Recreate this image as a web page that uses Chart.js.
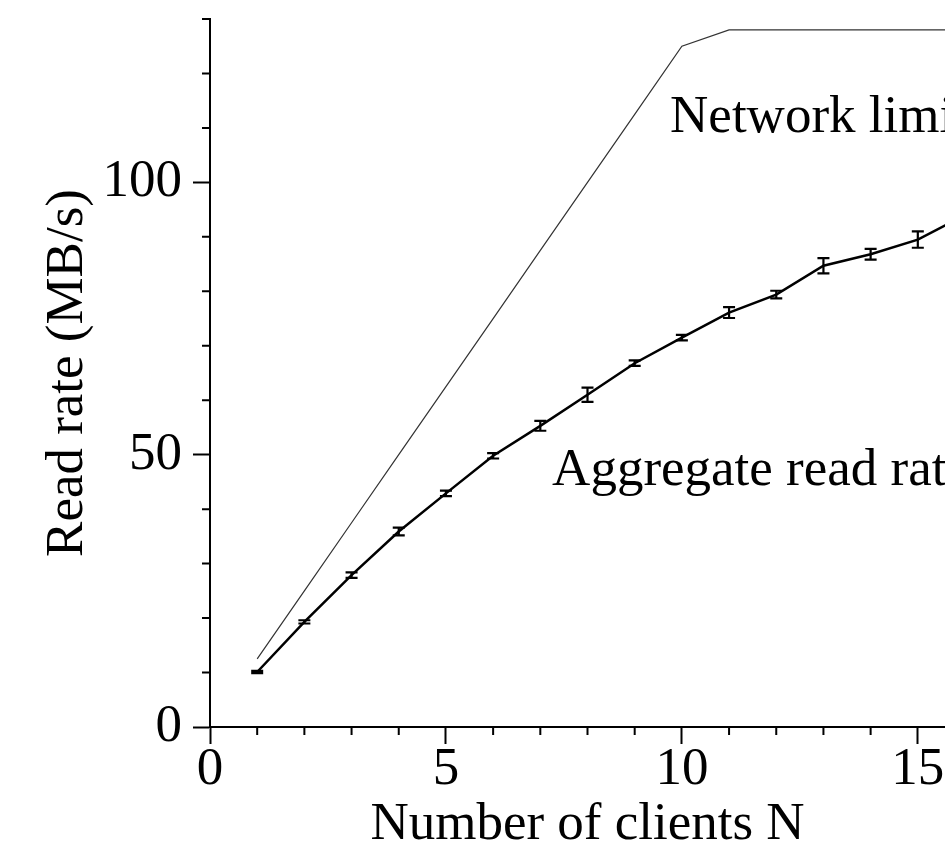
<!DOCTYPE html>
<html>
<head>
<meta charset="utf-8">
<script src="https://cdn.jsdelivr.net/npm/chart.js@4/dist/chart.umd.min.js"></script>
<style>
  html, body { margin: 0; padding: 0; background: #fff; overflow: hidden; }
</style>
</head>
<body>
<canvas id="chart" width="980" height="853"></canvas>
<script>
// values
let clients = [1, 2, 3, 4, 5, 6, 7, 8, 9, 10, 11, 12, 13, 14, 15, 16];
let aggregate_rate = [10.1, 19.3, 27.9, 35.9, 42.9, 49.8, 55.3, 61.0, 66.8, 71.5, 76.1, 79.4, 84.7, 86.8, 89.5, 94.0];
let aggregate_err = [0.2, 0.3, 0.5, 0.7, 0.5, 0.5, 0.9, 1.3, 0.5, 0.5, 1.0, 0.7, 1.4, 1.0, 1.5, 1.0];
let network_limit = [12.5, 25, 37.5, 50, 62.5, 75, 87.5, 100, 112.5, 125, 128, 128, 128, 128, 128, 128];

let x_labels = [0, 5, 10, 15];
let y_labels = [0, 50, 100];
let x_minor = [1, 2, 3, 4, 6, 7, 8, 9, 11, 12, 13, 14, 16];
let y_minor = [10, 20, 30, 40, 60, 70, 80, 90, 110, 120, 130];

// text written inside the plot, anchored at data values
let notes = [
  {text: "Network limit", x: 9.75, y: 109.3},
  {text: "Aggregate read rate", x: 7.25, y: 44.4}
];

const FONT = '"Liberation Serif", "Times New Roman", serif';

let extras = {
  id: 'extras',
  afterDatasetsDraw(chart) {
    let ctx = chart.ctx;
    let xs = chart.scales.x, ys = chart.scales.y;
    ctx.save();

    // error bars on the aggregate curve
    ctx.strokeStyle = '#000';
    ctx.lineWidth = 2.2;
    for (let i = 0; i < clients.length; i++) {
      let px = xs.getPixelForValue(clients[i]);
      let top = ys.getPixelForValue(aggregate_rate[i] + aggregate_err[i]);
      let bot = ys.getPixelForValue(aggregate_rate[i] - aggregate_err[i]);
      ctx.beginPath();
      ctx.moveTo(px, top); ctx.lineTo(px, bot);
      ctx.moveTo(px - 6, top); ctx.lineTo(px + 6, top);
      ctx.moveTo(px - 6, bot); ctx.lineTo(px + 6, bot);
      ctx.stroke();
    }

    // minor ticks
    ctx.lineWidth = 2;
    let axisY = ys.getPixelForValue(0);
    let axisX = xs.getPixelForValue(0);
    ctx.beginPath();
    x_minor.forEach(v => {
      let px = xs.getPixelForValue(v);
      ctx.moveTo(px, axisY); ctx.lineTo(px, axisY + 8);
    });
    y_minor.forEach(v => {
      let py = ys.getPixelForValue(v);
      ctx.moveTo(axisX, py); ctx.lineTo(axisX - 8, py);
    });
    ctx.stroke();

    // labels
    ctx.fillStyle = '#000';
    ctx.font = '53px ' + FONT;
    ctx.textAlign = 'left';
    ctx.textBaseline = 'alphabetic';
    notes.forEach(n => {
      ctx.fillText(n.text, xs.getPixelForValue(n.x), ys.getPixelForValue(n.y));
    });
    ctx.restore();
  }
};

let chart = new Chart(document.getElementById('chart'), {
  type: 'line',
  data: {
    labels: clients,
    datasets: [
      {
        label: 'Network limit',
        data: clients.map((n, i) => ({x: n, y: network_limit[i]})),
        borderColor: '#333',
        borderWidth: 1.2,
        pointRadius: 0,
        tension: 0
      },
      {
        label: 'Aggregate read rate',
        data: clients.map((n, i) => ({x: n, y: aggregate_rate[i]})),
        borderColor: '#000',
        borderWidth: 2.5,
        pointRadius: 0,
        tension: 0
      }
    ]
  },
  options: {
    responsive: false,
    animation: false,
    layout: {padding: {top: 19, right: 15, bottom: 0, left: 0}},
    plugins: {legend: {display: false}, tooltip: {enabled: false}},
    scales: {
      x: {
        type: 'linear',
        min: 0,
        max: 16,
        afterBuildTicks: s => { s.ticks = x_labels.map(v => ({value: v})); },
        afterFit: s => { s.height = 126; s.paddingLeft = 0; s.paddingRight = 0; },
        border: {display: true, color: '#000', width: 2},
        grid: {drawOnChartArea: false, tickLength: 17, tickWidth: 2, tickColor: '#000'},
        ticks: {
          color: '#000',
          padding: 0,
          maxRotation: 0,
          font: {family: FONT, size: 53, lineHeight: 1}
        },
        title: {
          display: true,
          text: 'Number of clients N',
          color: '#000',
          padding: {top: 0, bottom: 1},
          font: {family: FONT, size: 53, lineHeight: 1}
        }
      },
      y: {
        min: 0,
        max: 130,
        afterBuildTicks: s => { s.ticks = y_labels.map(v => ({value: v})); },
        afterFit: s => { s.width = 210; s.paddingTop = 0; s.paddingBottom = 0; },
        border: {display: true, color: '#000', width: 2},
        grid: {drawOnChartArea: false, tickLength: 17, tickWidth: 2, tickColor: '#000'},
        ticks: {
          color: '#000',
          padding: 11,
          font: {family: FONT, size: 53, lineHeight: 1}
        },
        title: {
          display: true,
          text: 'Read rate (MB/s)',
          color: '#000',
          padding: {top: 42, bottom: 0},
          font: {family: FONT, size: 53, lineHeight: 1}
        }
      }
    }
  },
  plugins: [extras]
});
</script>
</body>
</html>
